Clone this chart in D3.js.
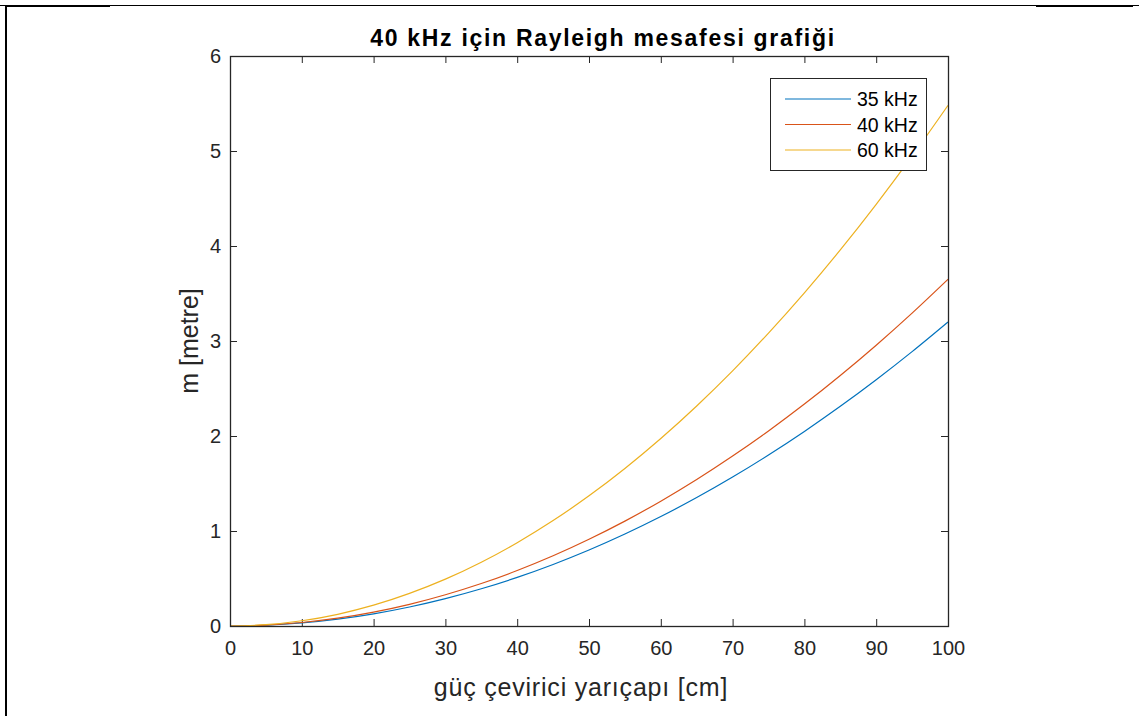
<!DOCTYPE html>
<html>
<head>
<meta charset="utf-8">
<script src="https://cdn.jsdelivr.net/npm/d3@7"></script>
<style>
  html, body { margin: 0; padding: 0; background: #fff; }
  svg { display: block; font-family: "Liberation Sans", Arial, Helvetica, sans-serif; }
</style>
</head>
<body>
<svg id="chart" width="1139" height="716"></svg>
<script>
// Transducer radius [cm]
const radius = [0, 5, 10, 15, 20, 25, 30, 35, 40, 45, 50, 55, 60, 65, 70, 75, 80, 85, 90, 95, 100];
// Rayleigh distance [m] per frequency
const r35 = [0, 0.008, 0.032, 0.072, 0.128, 0.200, 0.288, 0.392, 0.512, 0.648, 0.800, 0.968, 1.152, 1.352, 1.568, 1.800, 2.048, 2.312, 2.592, 2.888, 3.200];
const r40 = [0, 0.009, 0.037, 0.082, 0.146, 0.228, 0.329, 0.447, 0.584, 0.739, 0.913, 1.104, 1.314, 1.542, 1.789, 2.053, 2.336, 2.637, 2.956, 3.294, 3.650];
const r60 = [0, 0.014, 0.055, 0.123, 0.219, 0.343, 0.493, 0.671, 0.877, 1.110, 1.370, 1.658, 1.973, 2.316, 2.685, 3.083, 3.507, 3.959, 4.439, 4.946, 5.480];
const seriesNames = ["35 kHz", "40 kHz", "60 kHz"];
const seriesColors = ["#0072BD", "#D95319", "#EDB120"];
const xTicks = [0, 10, 20, 30, 40, 50, 60, 70, 80, 90, 100];
const yTicks = [0, 1, 2, 3, 4, 5, 6];

const svg = d3.select("#chart");
const plot = { left: 230, right: 948, top: 56, bottom: 626 };

// Outer figure frame
svg.append("line").attr("x1", 0).attr("x2", 1139).attr("y1", 5.5).attr("y2", 5.5)
  .attr("stroke", "#000").attr("stroke-width", 1);
svg.append("line").attr("x1", 5).attr("x2", 110).attr("y1", 6).attr("y2", 6)
  .attr("stroke", "#000").attr("stroke-width", 2);
svg.append("line").attr("x1", 1036).attr("x2", 1133).attr("y1", 6).attr("y2", 6)
  .attr("stroke", "#000").attr("stroke-width", 2);
svg.append("line").attr("x1", 6).attr("x2", 6).attr("y1", 5).attr("y2", 716)
  .attr("stroke", "#000").attr("stroke-width", 2);

const x = d3.scaleLinear().domain([0, 100]).range([plot.left, plot.right]);
const y = d3.scaleLinear().domain([0, 6]).range([plot.bottom, plot.top]);

const axisColor = "#262626";
const tickLen = 7;

// Axes: ticks point inward, box drawn on all four sides
function styleAxis(g) {
  g.select(".domain").remove();
  g.selectAll(".tick line").attr("stroke", axisColor);
  g.selectAll(".tick text").attr("fill", axisColor).style("font-size", "20px");
}
svg.append("g").attr("transform", `translate(0,${plot.bottom})`)
  .call(d3.axisBottom(x).tickValues(xTicks).tickFormat(d3.format("d")).tickSizeInner(-tickLen).tickSizeOuter(0).tickPadding(15))
  .call(styleAxis);
svg.append("g").attr("transform", `translate(0,${plot.top})`)
  .call(d3.axisTop(x).tickValues(xTicks).tickFormat("").tickSizeInner(-tickLen).tickSizeOuter(0))
  .call(styleAxis);
svg.append("g").attr("transform", `translate(${plot.left},0)`)
  .call(d3.axisLeft(y).tickValues(yTicks).tickFormat(d3.format("d")).tickSizeInner(-tickLen).tickSizeOuter(0).tickPadding(9))
  .call(styleAxis);
svg.append("g").attr("transform", `translate(${plot.right},0)`)
  .call(d3.axisRight(y).tickValues(yTicks).tickFormat("").tickSizeInner(-tickLen).tickSizeOuter(0))
  .call(styleAxis);

// Curves
const line = d3.line().x((d, i) => x(radius[i])).y(d => y(d)).curve(d3.curveMonotoneX);
[r35, r40, r60].forEach((vals, k) => {
  svg.append("path").datum(vals).attr("d", line)
    .attr("fill", "none").attr("stroke", seriesColors[k]).attr("stroke-width", 1.2);
});

// Plot box
svg.append("rect").attr("x", plot.left + 0.5).attr("y", plot.top + 0.5)
  .attr("width", plot.right - plot.left).attr("height", plot.bottom - plot.top)
  .attr("fill", "none").attr("stroke", axisColor).attr("stroke-width", 1.3);

// Titles
svg.append("text").attr("x", (plot.left + plot.right) / 2 + 14).attr("y", 46)
  .attr("text-anchor", "middle").attr("font-weight", "bold").style("font-size", "23px")
  .style("letter-spacing", "1.7px").attr("fill", "#000").text("40 kHz için Rayleigh mesafesi grafiği");
svg.append("text").attr("x", (plot.left + plot.right) / 2 - 8).attr("y", 696)
  .attr("text-anchor", "middle").style("font-size", "25px").style("letter-spacing", "0.8px")
  .attr("fill", axisColor).text("güç çevirici yarıçapı [cm]");
svg.append("text").attr("transform", `translate(198,${(plot.top + plot.bottom) / 2}) rotate(-90)`)
  .attr("text-anchor", "middle").style("font-size", "25px").attr("fill", axisColor)
  .text("m [metre]");

// Legend
const legend = svg.append("g");
legend.append("rect").attr("x", 770.5).attr("y", 78.5).attr("width", 156).attr("height", 92)
  .attr("fill", "#fff").attr("stroke", axisColor).attr("stroke-width", 1);
seriesNames.forEach((name, k) => {
  const ly = 99 + k * 25.5;
  legend.append("line").attr("x1", 785).attr("x2", 851).attr("y1", ly).attr("y2", ly)
    .attr("stroke", seriesColors[k]).attr("stroke-width", 1.2);
  legend.append("text").attr("x", 857).attr("y", ly + 7).style("font-size", "19.5px")
    .attr("fill", "#000").text(name);
});
</script>
</body>
</html>
